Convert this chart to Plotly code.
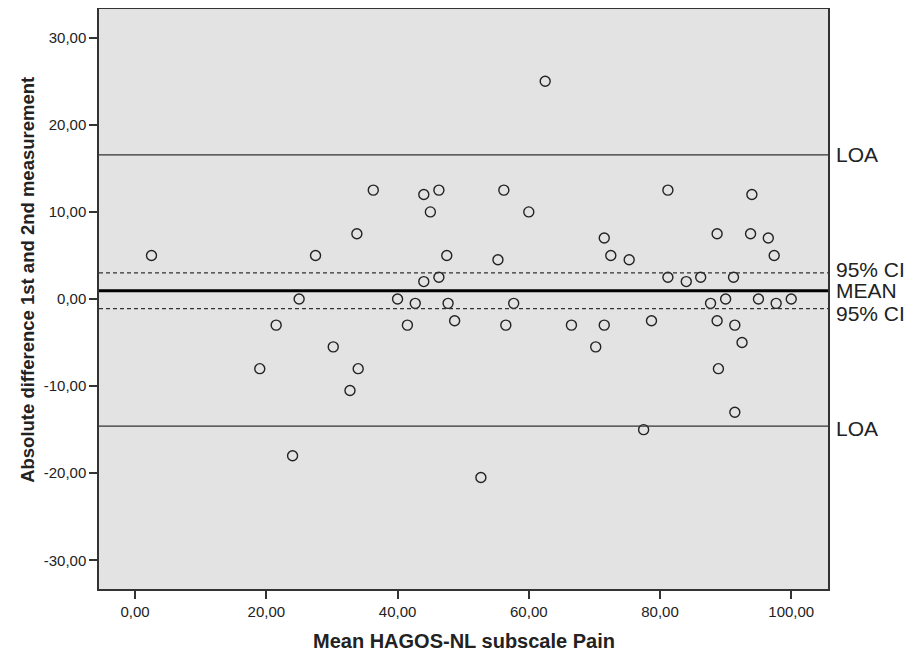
import plotly.graph_objects as go

# Bland-Altman data: mean of two measurements vs difference
mean_pain = [2.5, 19.0, 21.5, 24.0, 25.0, 27.5, 30.2, 32.75, 33.8, 34.0,
             36.3, 40.0, 41.5, 42.7, 44.0, 44.0, 45.0, 46.3, 46.3, 47.5,
             47.7, 48.7, 52.7, 55.3, 56.2, 56.5, 57.7, 60.0, 62.5, 66.5,
             70.2, 71.5, 71.5, 72.5, 75.3, 77.5, 78.7, 81.2, 81.2, 84.0,
             86.2, 87.7, 88.7, 88.7, 88.9, 90.0, 91.2, 91.4, 91.4, 92.5,
             93.8, 94.0, 95.0, 96.5, 97.4, 97.7, 100.0]
difference = [5.0, -8.0, -3.0, -18.0, 0.0, 5.0, -5.5, -10.5, 7.5, -8.0,
              12.5, 0.0, -3.0, -0.5, 12.0, 2.0, 10.0, 12.5, 2.5, 5.0,
              -0.5, -2.5, -20.5, 4.5, 12.5, -3.0, -0.5, 10.0, 25.0, -3.0,
              -5.5, 7.0, -3.0, 5.0, 4.5, -15.0, -2.5, 12.5, 2.5, 2.0,
              2.5, -0.5, 7.5, -2.5, -8.0, 0.0, 2.5, -3.0, -13.0, -5.0,
              7.5, 12.0, 0.0, 7.0, 5.0, -0.5, 0.0]

# Reference lines
mean_diff = 0.95
ci_upper = 3.0
ci_lower = -1.1
loa_upper = 16.55
loa_lower = -14.6

x_tickvals = [0, 20, 40, 60, 80, 100]
x_ticktext = ["0,00", "20,00", "40,00", "60,00", "80,00", "100,00"]
y_tickvals = [-30, -20, -10, 0, 10, 20, 30]
y_ticktext = ["-30,00", "-20,00", "-10,00", "0,00", "10,00", "20,00", "30,00"]

FONT = "Arial, Liberation Sans, Helvetica, sans-serif"
INK = "#222222"

fig = go.Figure()
fig.add_trace(go.Scatter(
    x=mean_pain, y=difference, mode="markers",
    marker=dict(symbol="circle-open", size=10, color=INK, line=dict(width=1.4, color=INK)),
    showlegend=False, hoverinfo="x+y"))

line_specs = [
    (loa_upper, dict(color="#333333", width=1.3)),
    (loa_lower, dict(color="#333333", width=1.3)),
    (ci_upper, dict(color="#333333", width=1.1, dash="4px,3px")),
    (ci_lower, dict(color="#333333", width=1.1, dash="4px,3px")),
    (mean_diff, dict(color="#000000", width=3.2)),
]
for yv, ln in line_specs:
    fig.add_shape(type="line", xref="paper", x0=0, x1=1, yref="y", y0=yv, y1=yv, line=ln, layer="above")

labels = [("LOA", loa_upper, 0), ("95% CI", ci_upper, 3), ("MEAN", mean_diff, 0),
          ("95% CI", ci_lower, -5), ("LOA", loa_lower, -2)]
for txt, yv, ys in labels:
    fig.add_annotation(text=txt, xref="paper", x=1, xanchor="left", xshift=6,
                       yref="y", y=yv, yanchor="middle", yshift=ys, showarrow=False,
                       font=dict(family=FONT, size=21, color=INK))

fig.add_annotation(text="<b>Mean HAGOS-NL subscale Pain</b>", xref="paper", x=0.5, xanchor="center",
                   yref="paper", y=0, yanchor="middle", yshift=-52, showarrow=False,
                   font=dict(family=FONT, size=20, color=INK))
fig.add_annotation(text="<b>Absolute difference 1st and 2nd measurement</b>", xref="paper", x=0,
                   xanchor="center", xshift=-71, yref="paper", y=0.533, yanchor="middle",
                   textangle=-90, showarrow=False, font=dict(family=FONT, size=18.5, color=INK))

axis_common = dict(showgrid=False, zeroline=False, showline=True, mirror=True,
                   linecolor="#333333", linewidth=1.5, ticks="outside", ticklen=8,
                   tickwidth=1.5, tickcolor="#333333",
                   tickfont=dict(family=FONT, size=15, color=INK))
fig.update_xaxes(range=[-5.5, 105.6], tickvals=x_tickvals, ticktext=x_ticktext, **axis_common)
fig.update_yaxes(range=[-33.3, 33.3], tickvals=y_tickvals, ticktext=y_ticktext,
                 ticklabelstandoff=0, **axis_common)

# page has an 8px body margin; figure sized so the plot area lands where the reference has it
fig.update_layout(width=904, height=643, margin=dict(l=91, r=84, t=1, b=62, autoexpand=False),
                  paper_bgcolor="white", plot_bgcolor="#e3e3e3",
                  font=dict(family=FONT, color=INK))

fig.write_html("out.html")
